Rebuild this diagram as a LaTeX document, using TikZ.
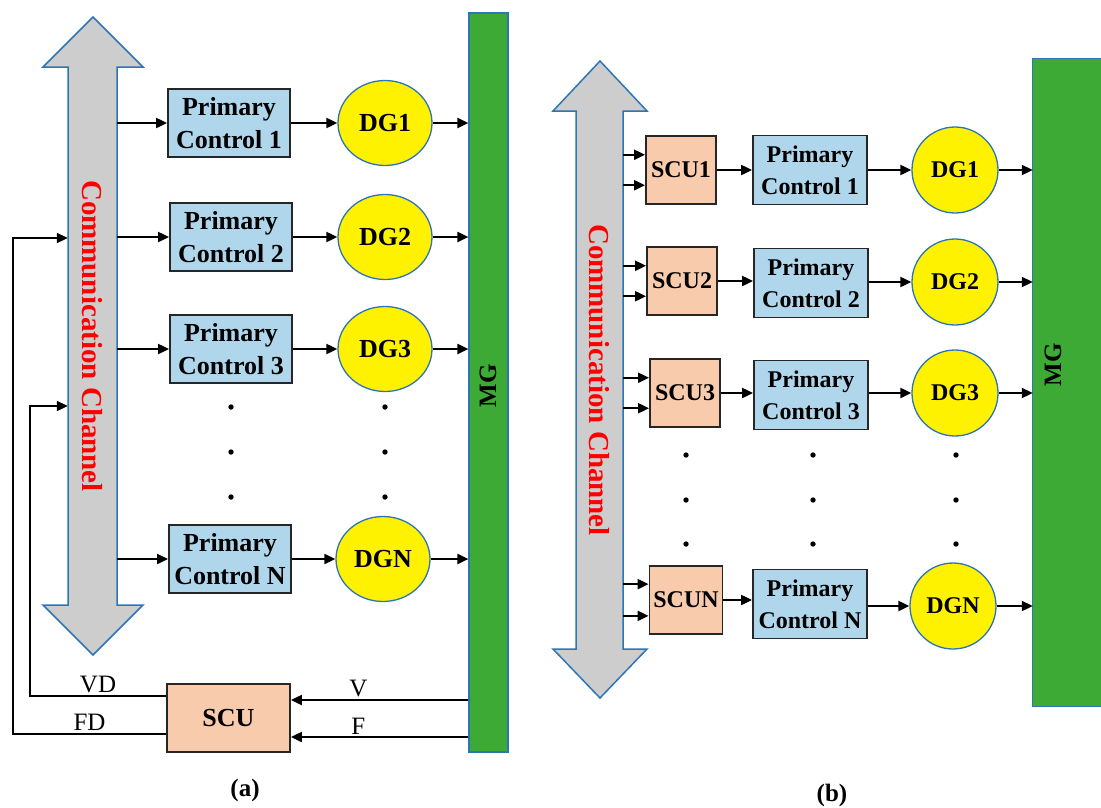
\documentclass[tikz,border=0pt]{standalone}
\usepackage{fontspec}
\setmainfont{Liberation Serif}
\usetikzlibrary{arrows.meta,shapes.geometric}

\definecolor{pcblue}{RGB}{176,214,236}
\definecolor{scupink}{RGB}{248,203,173}
\definecolor{mggreen}{RGB}{61,170,53}
\definecolor{edgeblue}{RGB}{46,117,182}
\definecolor{chgray}{RGB}{205,205,205}

\tikzset{
	conn/.style={-{Triangle[length=11pt,width=10pt]}, line width=2pt},
	pcbox/.style={draw=black!85, line width=1.8pt, fill=pcblue, align=center, inner sep=0pt, minimum width=122pt, minimum height=68pt, font=\bfseries\fontsize{26}{33}\selectfont},
	pcboxb/.style={pcbox, minimum width=114pt, minimum height=69pt, font=\bfseries\fontsize{24}{32}\selectfont},
	scubox/.style={draw=black!85, line width=1.8pt, fill=scupink, inner sep=0pt, minimum width=123pt, minimum height=68pt, font=\bfseries\fontsize{26}{30}\selectfont},
	scuboxb/.style={scubox, minimum width=70pt, font=\bfseries\fontsize{24}{28}\selectfont},
	dgnode/.style={ellipse, draw=edgeblue, line width=1.3pt, fill=yellow, inner sep=0pt, minimum width=94pt, minimum height=85pt, font=\bfseries\fontsize{26}{30}\selectfont},
	dgnodeb/.style={dgnode, minimum width=86pt, minimum height=86pt, font=\bfseries\fontsize{24}{28}\selectfont},
	chan/.style={inner sep=0pt, text=red, font=\bfseries\fontsize{29}{32}\selectfont},
	mglabel/.style={inner sep=0pt, font=\bfseries\fontsize{25}{28}\selectfont},
	sig/.style={inner sep=2pt, font=\fontsize{25}{28}\selectfont},
	caption/.style={inner sep=0pt, font=\bfseries\fontsize{25}{28}\selectfont}
}

\begin{document}
\begin{tikzpicture}[x=1pt, y=-1pt]
		%%%%% START %%%%%
		\useasboundingbox (0,0) rectangle (1101,807);
		
		%%%%% (a) %%%%%
		\draw[edgeblue, line width=1.5pt, fill=chgray] (93,17) -- (143,67) -- (117,67) -- (117,605) -- (143,605) -- (93,655) -- (43,605) -- (68,605) -- (68,67) -- (43,67) -- cycle;
		\node[chan, minimum width=49pt, minimum height=538pt] (chanA) at (92.5,336) {\rotatebox{-90}{Communication Channel}};
		
		\node[draw=edgeblue, line width=1.2pt, fill=mggreen, minimum width=39pt, minimum height=739pt] (mgA) at (488.5,382.5) {};
		\node[mglabel] (mgtextA) at (488,386) {\rotatebox{90}{MG}};
		
		\node[pcbox] (pca1) at (229,123) {Primary\\Control 1};
		\node[pcbox] (pca2) at (231,237) {Primary\\Control 2};
		\node[pcbox] (pca3) at (231,349) {Primary\\Control 3};
		\node[pcbox] (pcaN) at (230,559) {Primary\\Control N};
		
		\node[dgnode] (dga1) at (385,123) {DG1};
		\node[dgnode] (dga2) at (385,237) {DG2};
		\node[dgnode] (dga3) at (385,349) {DG3};
		\node[dgnode] (dgaN) at (383,559) {DGN};
		
		\draw[conn] (chanA.east |- pca1) -- (pca1);
		\draw[conn] (chanA.east |- pca2) -- (pca2);
		\draw[conn] (chanA.east |- pca3) -- (pca3);
		\draw[conn] (chanA.east |- pcaN) -- (pcaN);
		
		\draw[conn] (pca1) -- (dga1);
		\draw[conn] (pca2) -- (dga2);
		\draw[conn] (pca3) -- (dga3);
		\draw[conn] (pcaN) -- (dgaN);
		
		\draw[conn] (dga1) -- (dga1 -| mgA.west);
		\draw[conn] (dga2) -- (dga2 -| mgA.west);
		\draw[conn] (dga3) -- (dga3 -| mgA.west);
		\draw[conn] (dgaN) -- (dgaN -| mgA.west);
		
		\fill (231,407) circle (2.7) (231,452) circle (2.7) (231,497) circle (2.7);
		\fill (385,407) circle (2.7) (385,452) circle (2.7) (385,497) circle (2.7);
		
		\node[scubox] (scuA) at (228.5,718) {SCU};
		\draw[conn] (mgA.west |- 0,700) -- node[sig, above, pos=0.62] {V} (scuA.east |- 0,700);
		\draw[conn] (mgA.west |- 0,737) -- node[sig, above, pos=0.62] {F} (scuA.east |- 0,737);
		\draw[conn] (scuA.west |- 0,696) -- node[sig, above] {VD} (30,696) -- (30,406) -- (chanA.west |- 0,406);
		\draw[conn] (scuA.west |- 0,734) -- node[sig, above] {FD} (13,734) -- (13,238) -- (chanA.west |- 0,238);
		
		\node[caption] (capA) at (245,790) {(a)};
		
		%%%%% (b) %%%%%
		\draw[edgeblue, line width=1.5pt, fill=chgray] (600,61) -- (647,111) -- (623,111) -- (623,649) -- (647,649) -- (600,698) -- (553,649) -- (576,649) -- (576,111) -- (553,111) -- cycle;
		\node[chan, minimum width=47pt, minimum height=538pt] (chanB) at (599.5,380) {\rotatebox{-90}{Communication Channel}};
		
		\node[fill=mggreen, minimum width=68pt, minimum height=647pt] (mgB) at (1067,382.5) {};
		\draw[edgeblue, line width=1.2pt] (mgB.north east) -- (mgB.north west) -- (mgB.south west) -- (mgB.south east);
		\node[mglabel] (mgtextB) at (1053,365) {\rotatebox{90}{MG}};
		
		\node[scuboxb] (scub1) at (681,170) {SCU1};
		\node[scuboxb] (scub2) at (682,281) {SCU2};
		\node[scuboxb] (scub3) at (685,393) {SCU3};
		\node[scuboxb, minimum width=73pt] (scubN) at (686,600) {SCUN};
		
		\node[pcboxb] (pcb1) at (810,170) {Primary\\Control 1};
		\node[pcboxb] (pcb2) at (811,283) {Primary\\Control 2};
		\node[pcboxb] (pcb3) at (811,395) {Primary\\Control 3};
		\node[pcboxb] (pcbN) at (810,604) {Primary\\Control N};
		
		\node[dgnodeb] (dgb1) at (955,170) {DG1};
		\node[dgnodeb] (dgb2) at (955,282) {DG2};
		\node[dgnodeb] (dgb3) at (955,393) {DG3};
		\node[dgnodeb] (dgbN) at (953,606) {DGN};
		
		\draw[conn] (chanB.east |- scub1.157) -- (scub1.157);
		\draw[conn] (chanB.east |- scub1.203) -- (scub1.203);
		\draw[conn] (chanB.east |- scub2.157) -- (scub2.157);
		\draw[conn] (chanB.east |- scub2.203) -- (scub2.203);
		\draw[conn] (chanB.east |- scub3.157) -- (scub3.157);
		\draw[conn] (chanB.east |- scub3.203) -- (scub3.203);
		\draw[conn] (chanB.east |- scubN.157) -- (scubN.157);
		\draw[conn] (chanB.east |- scubN.203) -- (scubN.203);
		
		\draw[conn] (scub1.east) -- (scub1.east -| pcb1.west);
		\draw[conn] (scub2.east) -- (scub2.east -| pcb2.west);
		\draw[conn] (scub3.east) -- (scub3.east -| pcb3.west);
		\draw[conn] (scubN.east) -- (scubN.east -| pcbN.west);
		
		\draw[conn] (dgb1 -| pcb1.east) -- (dgb1);
		\draw[conn] (dgb2 -| pcb2.east) -- (dgb2);
		\draw[conn] (dgb3 -| pcb3.east) -- (dgb3);
		\draw[conn] (dgbN -| pcbN.east) -- (dgbN);
		
		\draw[conn] (dgb1) -- (dgb1 -| mgB.west);
		\draw[conn] (dgb2) -- (dgb2 -| mgB.west);
		\draw[conn] (dgb3) -- (dgb3 -| mgB.west);
		\draw[conn] (dgbN) -- (dgbN -| mgB.west);
		
		\fill (686,455) circle (2.7) (686,500) circle (2.7) (686,544) circle (2.7);
		\fill (813,455) circle (2.7) (813,500) circle (2.7) (813,544) circle (2.7);
		\fill (956,455) circle (2.7) (956,500) circle (2.7) (956,544) circle (2.7);
		
		\node[caption] (capB) at (832,795) {(b)};
		
		%%%%% END %%%%%
\end{tikzpicture}
\end{document}
